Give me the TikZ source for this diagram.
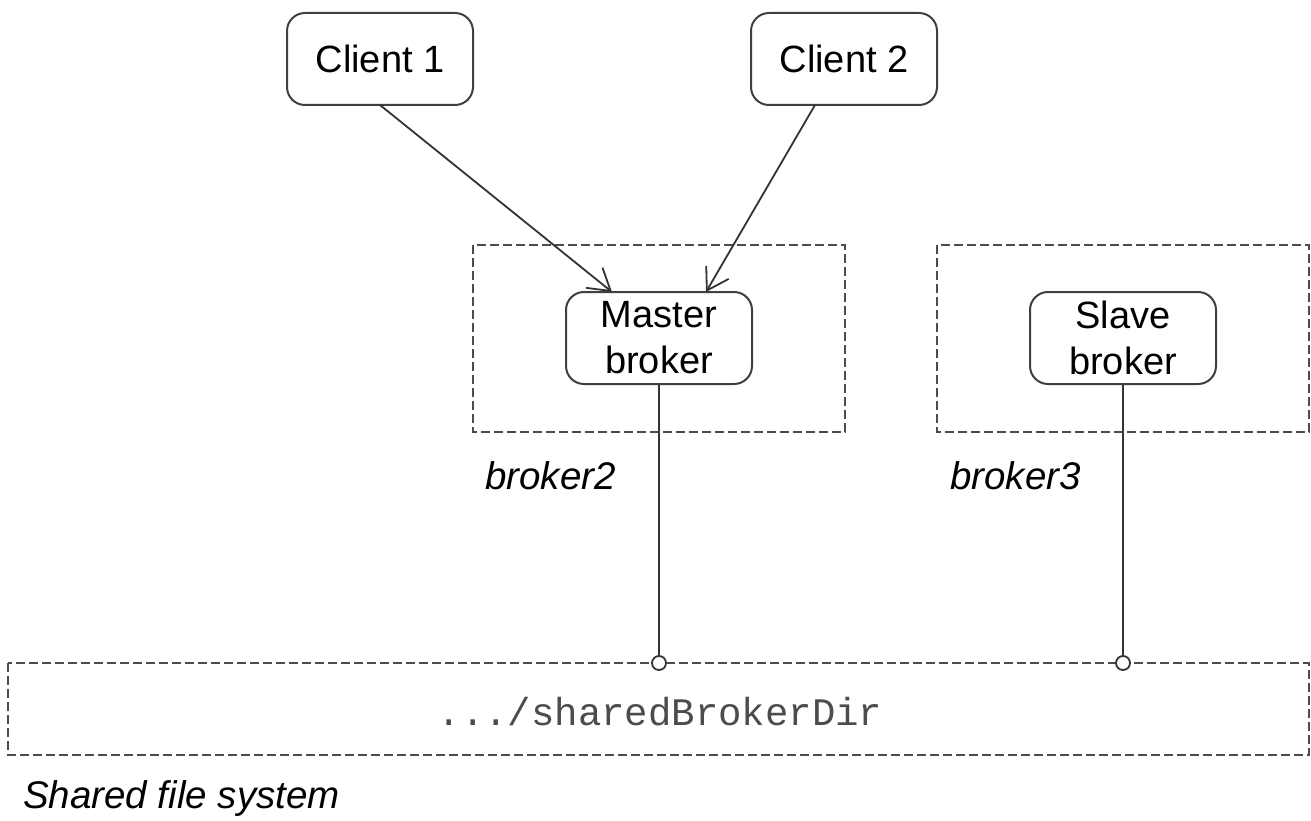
\documentclass[tikz,border=0pt]{standalone}
\usepackage{fontspec}
\setmainfont{Liberation Sans}
\newfontfamily\monofont{Liberation Mono}
\usetikzlibrary{arrows.meta}
\begin{document}
\begin{tikzpicture}[x=1pt,y=-1pt,
  rbox/.style={draw=black!75,line width=2pt,rounded corners=18pt,minimum width=186pt,minimum height=92pt,align=center,inner sep=0pt,font=\fontsize{38}{46}\selectfont},
  dbox/.style={draw=black!70,line width=2.6pt,dash pattern=on 9pt off 4pt},
  conn/.style={draw=black!80,line width=1.8pt},
  arr/.style={conn,-{Straight Barb[length=21pt,width=26pt,line width=1.8pt]}},
  lbl/.style={font=\fontsize{38.5}{44}\selectfont\itshape,anchor=west,inner sep=0pt},
  port/.style={circle,draw=black!80,line width=1.8pt,fill=white,minimum size=14pt,inner sep=0pt}]
\useasboundingbox (0,0) rectangle (1311,821);
\fill[white] (0,0) rectangle (1311,821);
% dashed containers
\draw[dbox] (473,245) rectangle (845,432);
\draw[dbox] (937,245) rectangle (1309,432);
\draw[dbox] (8,663) rectangle (1309,755);
\node[lbl] (l2) at (485,476) {broker2};
\node[lbl] (l3) at (950,476) {broker3};
\node[lbl] (lfs) at (23,799) {Shared file system};
\node[inner sep=0pt,font=\fontsize{39}{44}\selectfont\monofont,text=black!70] (dir) at (660,712) {.../sharedBrokerDir};
% nodes
\node[rbox] (c1) at (380,59) {Client 1};
\node[rbox] (c2) at (844,59) {Client 2};
\node[rbox] (m) at (659,338) {Master\\broker};
\node[rbox] (s) at (1123,338) {Slave\\broker};
\node[port] (p1) at (659,663) {};
\node[port] (p2) at (1123,663) {};
\coordinate (c1out) at (380,105);
\coordinate (c2out) at (815,105);
\coordinate (min1) at (612,292);
\coordinate (min2) at (706,292);
% connectors
\draw[arr] (c1out) -- (min1);
\draw[arr] (c2out) -- (min2);
\draw[conn] (m.south) -- (p1.north);
\draw[conn] (s.south) -- (p2.north);
\end{tikzpicture}
\end{document}
